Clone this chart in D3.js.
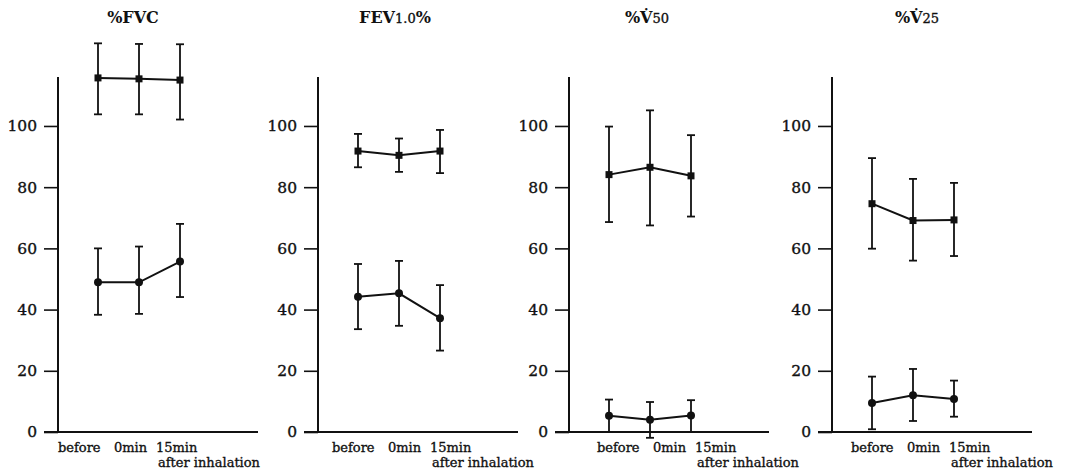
<!DOCTYPE html>
<html>
<head>
<meta charset="utf-8">
<script src="https://cdn.jsdelivr.net/npm/d3@7.9.0/dist/d3.min.js"></script>
<style>
  body { margin: 0; background: #fff; }
  svg { display: block; }
  text { font-family: "DejaVu Serif", "Liberation Serif", serif; fill: #111; }
  .heavy { stroke: #111; stroke-width: 0.35px; }
</style>
</head>
<body>
<svg id="chart" width="1065" height="470"></svg>
<script>
// categories and tick labels
const categories = ['before', '0min', '15min'];
const subLabel = 'after inhalation';
const yTicks = [0, 20, 40, 60, 80, 100];

// titles: [main, small, tail]
const titleParts = [
  ['%FVC', '', ''],
  ['FEV', '1.0', '%'],
  ['%V\u0307', '50', ''],
  ['%V\u0307', '25', '']
];

// square series (upper group): mean, top of bar, bottom of bar
const fvcSq = [115.7, 115.4, 115.0];
const fvcSqHi = [127.0, 126.8, 126.7];
const fvcSqLo = [103.8, 103.8, 102.1];
const fevSq = [91.8, 90.4, 91.8];
const fevSqHi = [97.4, 95.9, 98.7];
const fevSqLo = [86.5, 85.0, 84.6];
const v50Sq = [84.1, 86.5, 83.7];
const v50SqHi = [99.8, 105.1, 97.0];
const v50SqLo = [68.6, 67.5, 70.4];
const v25Sq = [74.6, 69.1, 69.3];
const v25SqHi = [89.5, 82.7, 81.4];
const v25SqLo = [59.9, 56.0, 57.5];

// circle series (lower group)
const fvcCi = [48.9, 48.9, 55.7];
const fvcCiHi = [60.0, 60.6, 68.0];
const fvcCiLo = [38.3, 38.6, 44.1];
const fevCi = [44.2, 45.3, 37.2];
const fevCiHi = [54.9, 55.9, 48.0];
const fevCiLo = [33.6, 34.7, 26.6];
const v50Ci = [5.3, 4.0, 5.4];
const v50CiHi = [10.6, 9.8, 10.4];
const v50CiLo = [0.0, -1.9, 0.0];
const v25Ci = [9.5, 12.0, 10.8];
const v25CiHi = [18.1, 20.6, 16.8];
const v25CiLo = [0.9, 3.6, 5.0];

const panelData = [
  { sq: [fvcSq, fvcSqHi, fvcSqLo], ci: [fvcCi, fvcCiHi, fvcCiLo] },
  { sq: [fevSq, fevSqHi, fevSqLo], ci: [fevCi, fevCiHi, fevCiLo] },
  { sq: [v50Sq, v50SqHi, v50SqLo], ci: [v50Ci, v50CiHi, v50CiLo] },
  { sq: [v25Sq, v25SqHi, v25SqLo], ci: [v25Ci, v25CiHi, v25CiLo] }
];

// layout
const axisX = [58, 318, 569, 832];
const titleX = [133, 395, 647, 917];
const labelStart = [58, 332, 597, 851];
const labelOffsets = [0, 56, 98];
const baseY = 432, topY = 77;

const svg = d3.select('#chart');
const y = d3.scaleLinear().domain([0, 116]).range([baseY, topY]);
const line = d3.line();

panelData.forEach((pd, i) => {
  const ax = axisX[i];
  const g = svg.append('g');
  const x = d3.scalePoint().domain(categories).range([ax + 40, ax + 122]);

  // y axis
  const yAxis = g.append('g')
    .attr('transform', `translate(${ax},0)`)
    .call(d3.axisLeft(y).tickValues(yTicks).tickSize(14).tickPadding(7).tickSizeOuter(0));
  yAxis.select('.domain').remove();
  yAxis.selectAll('.tick line').attr('stroke', '#111').attr('stroke-width', 1.6);
  yAxis.selectAll('.tick text').attr('font-size', 15.5).attr('fill', '#111')
    .attr('class', 'heavy')
    .style('font-family', '"DejaVu Serif", serif');

  g.append('line')
    .attr('x1', ax).attr('x2', ax).attr('y1', topY).attr('y2', baseY)
    .attr('stroke', '#111').attr('stroke-width', 2);
  g.append('line')
    .attr('x1', ax - 14).attr('x2', ax + 200).attr('y1', baseY).attr('y2', baseY)
    .attr('stroke', '#111').attr('stroke-width', 2);

  // x labels
  categories.forEach((c, j) => {
    g.append('text')
      .attr('class', 'heavy')
      .attr('x', labelStart[i] + labelOffsets[j]).attr('y', 452)
      .attr('font-size', 13).text(c);
  });
  g.append('text')
    .attr('class', 'heavy')
    .attr('x', labelStart[i] + 100).attr('y', 467)
    .attr('font-size', 13).text(subLabel);

  // title
  const t = g.append('text')
    .attr('x', titleX[i]).attr('y', 23)
    .attr('text-anchor', 'middle')
    .attr('font-weight', 'bold')
    .attr('font-size', 16);
  t.append('tspan').text(titleParts[i][0]);
  if (titleParts[i][1]) t.append('tspan').attr('font-size', 13).attr('font-weight', 'normal').attr('class', 'heavy').text(titleParts[i][1]);
  if (titleParts[i][2]) t.append('tspan').text(titleParts[i][2]);

  // series
  [['sq', pd.sq], ['ci', pd.ci]].forEach(([kind, [mean, hi, lo]]) => {
    const pts = categories.map((c, j) => [x(c), y(mean[j])]);
    g.append('path')
      .attr('d', line(pts))
      .attr('fill', 'none').attr('stroke', '#111').attr('stroke-width', 2);

    categories.forEach((c, j) => {
      const cx = x(c);
      g.append('line')
        .attr('x1', cx).attr('x2', cx).attr('y1', y(hi[j])).attr('y2', y(lo[j]))
        .attr('stroke', '#111').attr('stroke-width', 1.8);
      [hi[j], lo[j]].forEach(v => {
        g.append('line')
          .attr('x1', cx - 4).attr('x2', cx + 4).attr('y1', y(v)).attr('y2', y(v))
          .attr('stroke', '#111').attr('stroke-width', 1.8);
      });
      if (kind === 'sq') {
        g.append('rect')
          .attr('x', cx - 3.5).attr('y', y(mean[j]) - 3.5)
          .attr('width', 7).attr('height', 7).attr('fill', '#111');
      } else {
        g.append('circle')
          .attr('cx', cx).attr('cy', y(mean[j])).attr('r', 4).attr('fill', '#111');
      }
    });
  });
});
</script>
</body>
</html>
